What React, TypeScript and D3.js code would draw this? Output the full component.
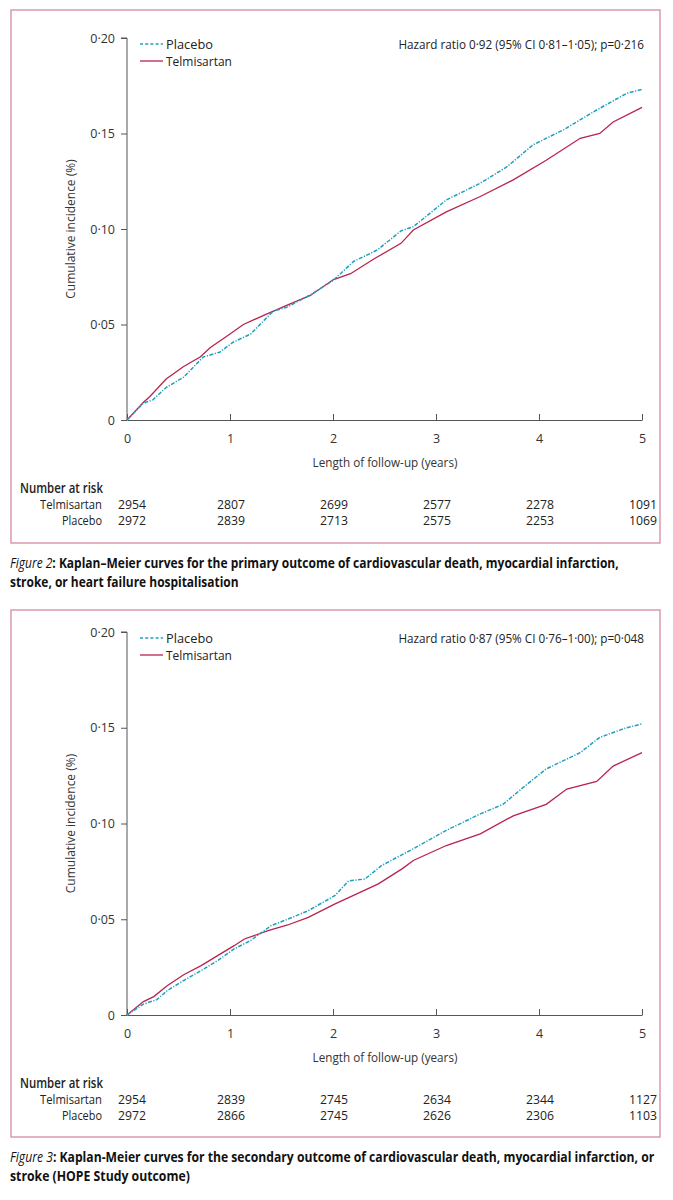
import React, { useEffect, useRef } from 'react';
import * as d3 from 'd3';

// years of follow-up and cumulative incidence
const fig2Time = [0, 0.16, 0.22, 0.38, 0.55, 0.71, 0.81, 1.0, 1.13, 1.36, 1.55, 1.78, 2.0, 2.17, 2.4, 2.66, 2.78, 3.1, 3.43, 3.75, 4.07, 4.4, 4.59, 4.72, 5.0];
const fig2Telmisartan = [0, 0.0093, 0.0122, 0.0215, 0.028, 0.033, 0.038, 0.045, 0.05, 0.0556, 0.06, 0.0652, 0.0734, 0.0766, 0.0844, 0.0925, 0.0995, 0.109, 0.117, 0.1257, 0.136, 0.1475, 0.15, 0.156, 0.1637];
const fig2PlaceboTime = [0, 0.16, 0.25, 0.38, 0.55, 0.74, 0.9, 1.03, 1.2, 1.42, 1.55, 1.78, 2.0, 2.2, 2.43, 2.66, 2.78, 3.1, 3.43, 3.69, 3.94, 4.24, 4.56, 4.85, 5.0];
const fig2Placebo = [0, 0.0089, 0.0105, 0.017, 0.0224, 0.033, 0.0355, 0.0407, 0.045, 0.057, 0.059, 0.0655, 0.073, 0.083, 0.089, 0.099, 0.1012, 0.1152, 0.124, 0.1326, 0.144, 0.152, 0.1623, 0.171, 0.1731];

const fig3Time = [0, 0.16, 0.26, 0.39, 0.55, 0.72, 0.88, 1.04, 1.14, 1.37, 1.56, 1.76, 2.02, 2.21, 2.44, 2.67, 2.78, 3.1, 3.43, 3.75, 4.07, 4.27, 4.56, 4.72, 5.0];
const fig3Telmisartan = [0, 0.007, 0.0096, 0.0153, 0.021, 0.0258, 0.031, 0.0362, 0.0397, 0.044, 0.047, 0.051, 0.058, 0.0627, 0.0685, 0.0763, 0.0807, 0.0885, 0.0946, 0.104, 0.11, 0.118, 0.122, 0.13, 0.137];
const fig3PlaceboTime = [0, 0.16, 0.29, 0.39, 0.55, 0.72, 0.88, 1.04, 1.2, 1.4, 1.56, 1.76, 2.02, 2.15, 2.31, 2.47, 2.78, 3.1, 3.43, 3.65, 3.85, 4.07, 4.4, 4.59, 4.85, 5.0];
const fig3Placebo = [0, 0.0057, 0.008, 0.0127, 0.018, 0.0232, 0.0284, 0.0345, 0.0389, 0.0467, 0.05, 0.0545, 0.0624, 0.07, 0.071, 0.078, 0.0868, 0.0964, 0.105, 0.11, 0.119, 0.1285, 0.137, 0.145, 0.15, 0.152];

const riskYears = [0, 1, 2, 3, 4, 5];
const fig2RiskTelmisartan = [2954, 2807, 2699, 2577, 2278, 1091];
const fig2RiskPlacebo = [2972, 2839, 2713, 2575, 2253, 1069];
const fig3RiskTelmisartan = [2954, 2839, 2745, 2634, 2344, 1127];
const fig3RiskPlacebo = [2972, 2866, 2745, 2626, 2306, 1103];

const yTicks = [0, 0.05, 0.1, 0.15, 0.2];

const FONT = "'Open Sans', 'Noto Sans', sans-serif";
const RED = '#b8244e';
const CYAN = '#1fa0bf';
const BORDER = '#d48aa0';
const AXIS = '#555';

type Panel = {
    boxTop: number, boxBottom: number, yTop: number, yZero: number,
    hazard: string, caption: string[], figLabel: string, captionWidths: number[],
    telT: number[], telV: number[], plaT: number[], plaV: number[],
    riskTel: number[], riskPla: number[]
}

const panels: Panel[] = [
    {
        boxTop: 10, boxBottom: 543, yTop: 38, yZero: 420,
        hazard: 'Hazard ratio 0·92 (95% CI 0·81–1·05); p=0·216',
        figLabel: 'Figure 2',
        caption: [': Kaplan–Meier curves for the primary outcome of cardiovascular death, myocardial infarction,', 'stroke, or heart failure hospitalisation'],
        captionWidths: [609, 229],
        telT: fig2Time, telV: fig2Telmisartan, plaT: fig2PlaceboTime, plaV: fig2Placebo,
        riskTel: fig2RiskTelmisartan, riskPla: fig2RiskPlacebo
    },
    {
        boxTop: 610, boxBottom: 1137, yTop: 632, yZero: 1015,
        hazard: 'Hazard ratio 0·87 (95% CI 0·76–1·00); p=0·048',
        figLabel: 'Figure 3',
        caption: [': Kaplan-Meier curves for the secondary outcome of cardiovascular death, myocardial infarction, or', 'stroke (HOPE Study outcome)'],
        captionWidths: [645, 180],
        telT: fig3Time, telV: fig3Telmisartan, plaT: fig3PlaceboTime, plaV: fig3Placebo,
        riskTel: fig3RiskTelmisartan, riskPla: fig3RiskPlacebo
    }
];

const fmt = (d: number) => d === 0 ? '0' : d3.format('.2f')(d).replace('.', '·');

// squeeze a text horizontally to the width it has in the reference (its font is a narrow one)
function fit(sel: d3.Selection<SVGTextElement, unknown, null, undefined>, ax: number, target: number) {
    const w = (sel.node() as SVGTextElement).getComputedTextLength();
    if (!w) return sel;
    const k = target / w;
    sel.attr('transform', `translate(${ax},0) scale(${k},1) translate(${-ax},0)`);
    return sel;
}

export default function App() {
    const ref = useRef<SVGSVGElement>(null);

    useEffect(() => {
        const svg = d3.select(ref.current);
        svg.selectAll('*').remove();
        svg.attr('font-family', FONT);

        panels.forEach(p => {
            const g = svg.append('g');

            g.append('rect')
                .attr('x', 11).attr('y', p.boxTop)
                .attr('width', 649).attr('height', p.boxBottom - p.boxTop)
                .attr('fill', 'none').attr('stroke', BORDER).attr('stroke-width', 1.3);

            const x = d3.scaleLinear().domain([0, 5]).range([127, 642]);
            const y = d3.scaleLinear().domain([0, 0.2]).range([p.yZero, p.yTop]);

            // y axis
            const ya = g.append('g')
                .attr('transform', 'translate(127,0)')
                .call(d3.axisLeft(y).tickValues(yTicks).tickFormat(fmt as any).tickSize(6).tickPadding(6));
            ya.select('.domain').attr('stroke', AXIS).attr('d', `M-6,${p.yTop}H0V${p.yZero}`);
            ya.selectAll('line').attr('stroke', AXIS);
            ya.selectAll('text').attr('font-size', 12.5).attr('fill', '#333').attr('font-family', FONT);

            // x axis, ticks pointing inwards
            const xa = g.append('g')
                .attr('transform', `translate(0,${p.yZero})`)
                .call(d3.axisBottom(x).ticks(5).tickFormat(d3.format('d') as any).tickSizeInner(-6).tickSizeOuter(0).tickPadding(14));
            xa.select('.domain').attr('stroke', AXIS);
            xa.selectAll('line').attr('stroke', AXIS);
            xa.selectAll('text').attr('font-size', 12.5).attr('fill', '#333').attr('font-family', FONT);

            fit(g.append('text')
                .attr('x', 385).attr('y', p.yZero + 47)
                .attr('text-anchor', 'middle').attr('font-size', 13).attr('fill', '#333')
                .text('Length of follow-up (years)'), 385, 145);

            g.append('text')
                .attr('transform', `translate(75,${(p.yZero + p.yTop) / 2}) rotate(-90)`)
                .attr('text-anchor', 'middle').attr('font-size', 12).attr('fill', '#333')
                .text('Cumulative incidence (%)');

            // curves
            const line = d3.line<[number, number]>()
                .x(d => x(d[0])).y(d => y(d[1]));
            const pla = p.plaT.map((t, i) => [t, p.plaV[i]] as [number, number]);
            const tel = p.telT.map((t, i) => [t, p.telV[i]] as [number, number]);
            g.append('path').attr('d', line(tel)).attr('fill', 'none')
                .attr('stroke', RED).attr('stroke-width', 1.3);
            g.append('path').attr('d', line(pla)).attr('fill', 'none')
                .attr('stroke', CYAN).attr('stroke-width', 1.5).attr('stroke-dasharray', '4,1.5,1.2,1.5');

            // legend
            const ly = p.yTop + 6;
            g.append('line').attr('x1', 140).attr('x2', 163).attr('y1', ly).attr('y2', ly)
                .attr('stroke', CYAN).attr('stroke-width', 1.3).attr('stroke-dasharray', '3,2.2');
            fit(g.append('text').attr('x', 166).attr('y', ly).attr('dy', '0.35em')
                .attr('font-size', 13.5).attr('fill', '#222').text('Placebo'), 166, 47);
            g.append('line').attr('x1', 140).attr('x2', 163).attr('y1', ly + 17).attr('y2', ly + 17)
                .attr('stroke', RED).attr('stroke-width', 1.3);
            fit(g.append('text').attr('x', 166).attr('y', ly + 17).attr('dy', '0.35em')
                .attr('font-size', 13.5).attr('fill', '#222').text('Telmisartan'), 166, 66);

            fit(g.append('text').attr('x', 644).attr('y', ly).attr('dy', '0.35em')
                .attr('text-anchor', 'end').attr('font-size', 13.5).attr('fill', '#222').text(p.hazard), 644, 246);

            // number at risk
            const ry = p.yZero + 68;
            fit(g.append('text').attr('x', 20).attr('y', ry).attr('dy', '0.35em')
                .attr('font-size', 14).attr('font-weight', 600).attr('fill', '#222').text('Number at risk'), 20, 83);
            [['Telmisartan', p.riskTel, 62], ['Placebo', p.riskPla, 40]].forEach(([label, vals, wid], i) => {
                const yy = ry + 17 + i * 16;
                fit(g.append('text').attr('x', 102).attr('y', yy).attr('dy', '0.35em')
                    .attr('text-anchor', 'end').attr('font-size', 12).attr('fill', '#222').text(label as string), 102, wid as number);
                g.selectAll(null).data(vals as number[]).enter().append('text')
                    .attr('x', (_d, j) => x(riskYears[j]) + (j === 0 ? 5 : 1))
                    .attr('y', yy).attr('dy', '0.35em')
                    .attr('text-anchor', 'middle').attr('font-size', 12).attr('fill', '#222')
                    .text(d => d)
                    .each(function () { fit(d3.select(this as SVGTextElement) as any, +d3.select(this).attr('x'), 28); });
            });

            // caption
            const cy = p.boxBottom + 20;
            const t1 = g.append('text').attr('x', 10).attr('y', cy).attr('dy', '0.35em')
                .attr('font-size', 15).attr('fill', '#111');
            t1.append('tspan').attr('font-style', 'italic').text(p.figLabel);
            t1.append('tspan').attr('font-weight', 'bold').text(p.caption[0]);
            fit(t1, 10, p.captionWidths[0]);
            fit(g.append('text').attr('x', 10).attr('y', cy + 19).attr('dy', '0.35em')
                .attr('font-size', 15).attr('font-weight', 'bold').attr('fill', '#111').text(p.caption[1]), 10, p.captionWidths[1]);
        });
    }, []);

    return (
        <div style={{ position: 'absolute', left: 0, top: 0, width: 673, height: 1200, background: '#fff' }}>
            <svg ref={ref} width={673} height={1200} style={{ display: 'block' }} />
        </div>
    );
}
